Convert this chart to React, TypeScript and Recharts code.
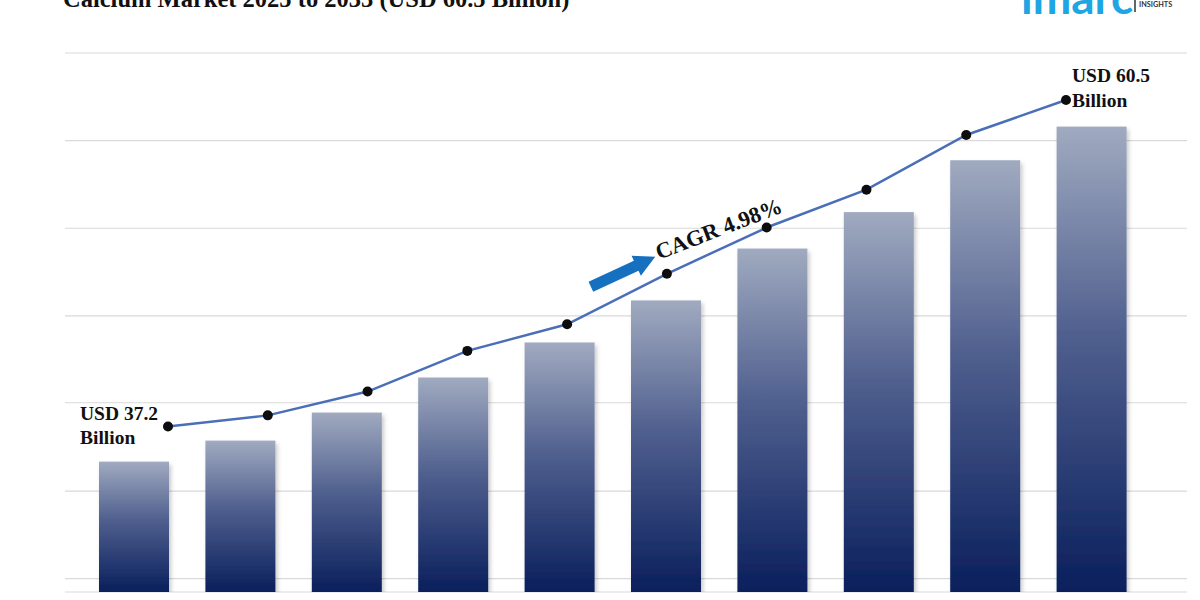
import { Bar, CartesianGrid, ComposedChart, Line, XAxis, YAxis } from "recharts";

const years = ["2024", "2025", "2026", "2027", "2028", "2029", "2030", "2031", "2032", "2033"];
// bar heights and line values, in USD billion
const barValues = [34.7, 36.2, 38.2, 40.7, 43.2, 46.2, 49.9, 52.5, 56.2, 58.6];
const marketValues = [37.2, 38.0, 39.7, 42.6, 44.5, 48.1, 51.4, 54.1, 58.0, 60.5];
const gridTicks = [26.35, 32.6, 38.9, 45.1, 51.35, 57.6, 63.85];
const yDomain = [25.4, 63.85];

const title = "Calcium Market 2025 to 2033 (USD 60.5 Billion)";
const startLabel = ["USD 37.2", "Billion"];
const endLabel = ["USD 60.5", "Billion"];
const cagrLabel = "CAGR 4.98%";

const chartData = years.map((year, i) => ({
  year,
  bar: barValues[i],
  market: marketValues[i],
}));

const serif = "'Liberation Serif', 'Times New Roman', serif";

const BarShape = (props: any) => {
  const { x, y, width, height } = props;
  if (!height || height <= 0) return null;
  return (
    <rect
      x={x}
      y={y}
      width={width}
      height={height}
      fill='url(#barGrad)'
      filter='url(#barShadow)'
    />
  );
};

const renderDot = (props: any) => {
  const { cx, cy, index } = props;
  const last = index === marketValues.length - 1;
  return (
    <g key={`dot-${index}`}>
      <circle cx={cx} cy={cy} r={5} fill='#0d0d0d' />
      {index === 0 && (
        <text x={cx - 88} y={cy} fontFamily={serif} fontWeight={700} fontSize={19.5} fill='#111'>
          <tspan x={cx - 88} dy={-7}>{startLabel[0]}</tspan>
          <tspan x={cx - 88} dy={24}>{startLabel[1]}</tspan>
        </text>
      )}
      {last && (
        <text x={cx + 6} y={cy} fontFamily={serif} fontWeight={700} fontSize={19.5} fill='#111'>
          <tspan x={cx + 6} dy={-18}>{endLabel[0]}</tspan>
          <tspan x={cx + 6} dy={25}>{endLabel[1]}</tspan>
        </text>
      )}
      {index === 5 && (
        <g>
          <g transform={`translate(${cx - 76},${cy + 13}) rotate(-25)`}>
            <polygon points='0,-5.5 50,-5.5 50,-11 71,0 50,11 50,5.5 0,5.5' fill='#1570c0' />
          </g>
          <text
            transform={`translate(${cx - 8},${cy - 14}) rotate(-21)`}
            fontFamily={serif}
            fontWeight={700}
            fontSize={22.5}
            fill='#111'>
            {cagrLabel}
          </text>
        </g>
      )}
    </g>
  );
};

export default function App() {
  return (
    <div
      style={{
        position: "absolute",
        left: 0,
        top: 0,
        width: 1200,
        height: 600,
        background: "#ffffff",
        overflow: "hidden",
      }}>
      <ComposedChart
        width={1200}
        height={600}
        data={chartData}
        margin={{ top: 53, right: 13, bottom: 8, left: 65 }}>
        <defs>
          <linearGradient id='barGrad' x1='0' y1='0' x2='0' y2='1'>
            <stop offset='0%' stopColor='#a0aac0' />
            <stop offset='45%' stopColor='#4f5f8e' />
            <stop offset='100%' stopColor='#0a1f5c' />
          </linearGradient>
          <filter id='barShadow' x='-20%' y='-10%' width='150%' height='130%'>
            <feDropShadow dx='2' dy='3' stdDeviation='2' floodColor='#000' floodOpacity='0.22' />
          </filter>
        </defs>
        <CartesianGrid vertical={false} stroke='#d9d9d9' strokeWidth={1.2} />
        <XAxis dataKey='year' hide scale='band' padding={{ left: 16, right: 42 }} />
        <XAxis xAxisId='line' dataKey='year' hide scale='point' padding={{ left: 103, right: 121 }} />
        <YAxis hide type='number' domain={yDomain} ticks={gridTicks} allowDataOverflow />
        <Bar dataKey='bar' barSize={70} shape={BarShape} isAnimationActive={false} />
        <Line
          xAxisId='line'
          dataKey='market'
          type='linear'
          stroke='#4a6fb8'
          strokeWidth={2.5}
          dot={renderDot}
          activeDot={false}
          isAnimationActive={false}
        />
      </ComposedChart>
      {/* title and logo, cut off by the top edge like the source image */}
      <svg
        width={1200}
        height={600}
        style={{ position: "absolute", left: 0, top: 0, pointerEvents: "none" }}>
        <text x={63} y={7} fontFamily={serif} fontWeight={700} fontSize={24.5} fill='#111'>
          {title}
        </text>
        <text x={1021} y={14} fontFamily='Lato, sans-serif' fontWeight={700} fontSize={46} fill='#1ea5e3'>
          imarc
        </text>
        <line x1={1135} y1={0} x2={1135} y2={12} stroke='#333' strokeWidth={1.5} />
        <text x={1139} y={7} fontFamily='Lato, sans-serif' fontWeight={700} fontSize={7.3} fill='#333'>
          INSIGHTS
        </text>
      </svg>
    </div>
  );
}
